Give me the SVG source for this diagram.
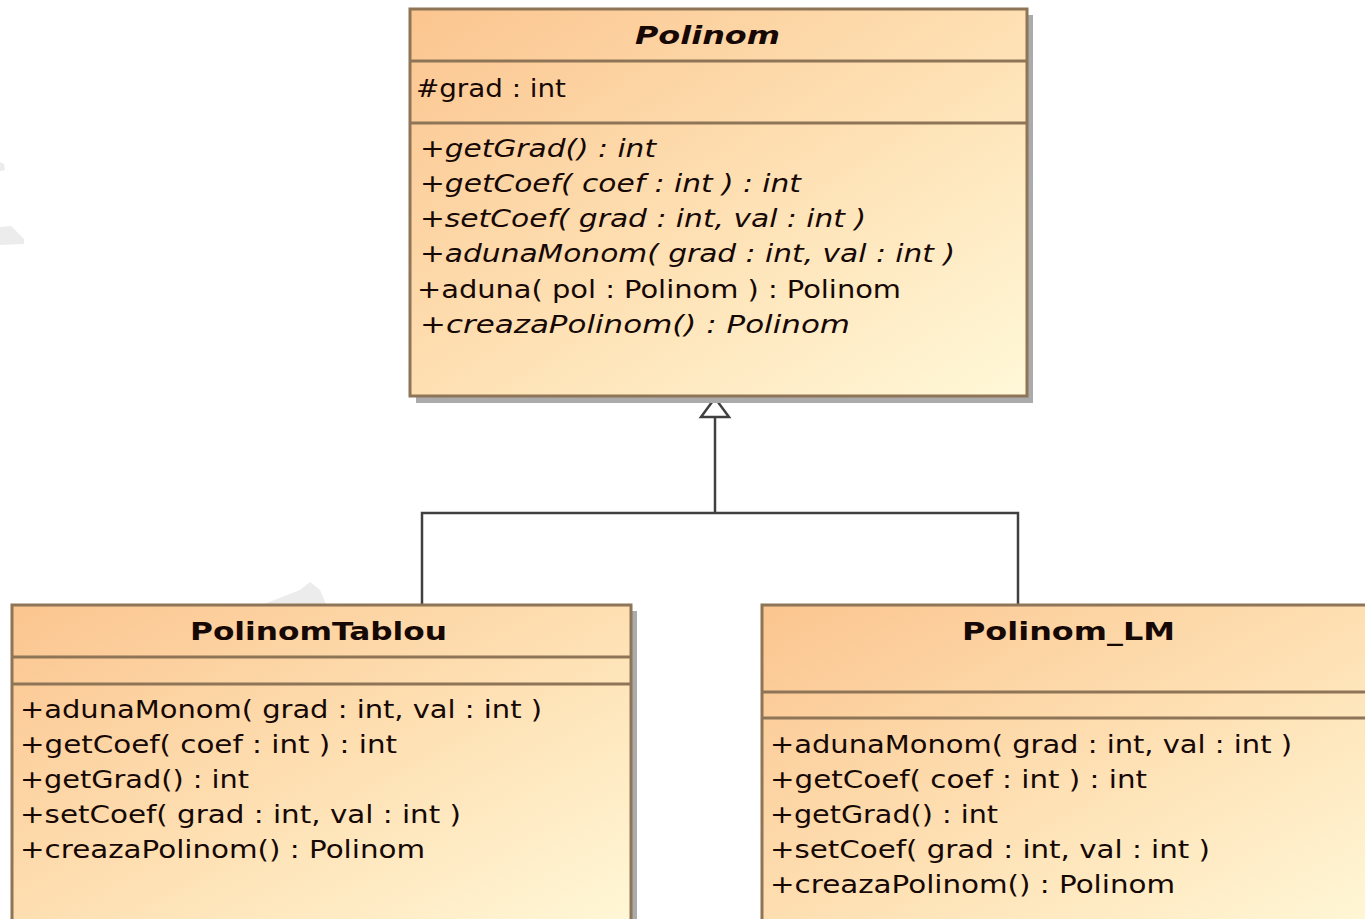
<svg xmlns="http://www.w3.org/2000/svg" width="1365" height="919" viewBox="0 0 1365 919">
  <defs>
    <linearGradient id="classFill" x1="0" y1="0" x2="1" y2="1">
      <stop offset="0" stop-color="#FBC58F"/>
      <stop offset="0.55" stop-color="#FEE2B6"/>
      <stop offset="1" stop-color="#FFF8D8"/>
    </linearGradient>
  </defs>
  <style>
    .shadow { fill: #ABABAB; }
    .box { fill: url(#classFill); stroke: #8E7557; stroke-width: 3; }
    .sep { stroke: #8E7557; stroke-width: 3; }
    .txt { font-family: "DejaVu Sans", "Liberation Sans", sans-serif; font-size: 24px; fill: #160805; }
    .it { font-style: italic; }
    .title { font-family: "DejaVu Sans", "Liberation Sans", sans-serif; font-size: 25px; font-weight: bold; fill: #160805; }
    .edge { stroke: #404040; stroke-width: 2.5; fill: none; }
    .head { stroke: #404040; stroke-width: 2.5; fill: #FFFFFF; stroke-linejoin: miter; }
    .faint { fill: #ECECEC; }
  </style>

  <rect width="1365" height="919" fill="#FFFFFF"/>

  <!-- faint background marks -->
  <polygon class="faint" points="0,227 11,226 24,239 24,244 0,245"/>
  <polygon class="faint" points="0,162 4,164 5,170 0,171"/>
  <polygon class="faint" points="264,604 300,590 310,582 320,590 326,604"/>

  <!-- generalization connectors -->
  <g id="connectors">
    <polyline class="edge" points="422,604 422,513 1018,513 1018,604"/>
    <line class="edge" x1="715" y1="513" x2="715" y2="417"/>
    <polygon class="head" points="715,398 701,417 729,417"/>
  </g>

  <!-- abstract base class -->
  <g id="Polinom">
    <rect class="shadow" x="416" y="15" width="617" height="388"/>
    <rect class="box" x="410" y="9" width="617" height="387"/>
    <line class="sep" x1="410" y1="61" x2="1027" y2="61"/>
    <line class="sep" x1="410" y1="123" x2="1027" y2="123"/>
    <text class="title it" x="635" y="44" textLength="145" lengthAdjust="spacingAndGlyphs">Polinom</text>
    <text class="txt" x="416" y="97" textLength="150" lengthAdjust="spacingAndGlyphs">#grad : int</text>
    <text class="txt it" x="420" y="157" textLength="236" lengthAdjust="spacingAndGlyphs">+getGrad() : int</text>
    <text class="txt it" x="420" y="192" textLength="381" lengthAdjust="spacingAndGlyphs">+getCoef( coef : int ) : int</text>
    <text class="txt it" x="420" y="227" textLength="446" lengthAdjust="spacingAndGlyphs">+setCoef( grad : int, val : int )</text>
    <text class="txt it" x="420" y="262" textLength="535" lengthAdjust="spacingAndGlyphs">+adunaMonom( grad : int, val : int )</text>
    <text class="txt" x="417" y="298" textLength="484" lengthAdjust="spacingAndGlyphs">+aduna( pol : Polinom ) : Polinom</text>
    <text class="txt it" x="420" y="333" textLength="430" lengthAdjust="spacingAndGlyphs">+creazaPolinom() : Polinom</text>
  </g>

  <!-- array-backed implementation -->
  <g id="PolinomTablou">
    <rect class="shadow" x="18" y="611" width="619" height="320"/>
    <rect class="box" x="12" y="605" width="619" height="330"/>
    <line class="sep" x1="12" y1="657" x2="631" y2="657"/>
    <line class="sep" x1="12" y1="684" x2="631" y2="684"/>
    <text class="title" x="190" y="640" textLength="257" lengthAdjust="spacingAndGlyphs">PolinomTablou</text>
    <text class="txt" x="20" y="718" textLength="522" lengthAdjust="spacingAndGlyphs">+adunaMonom( grad : int, val : int )</text>
    <text class="txt" x="20" y="753" textLength="377" lengthAdjust="spacingAndGlyphs">+getCoef( coef : int ) : int</text>
    <text class="txt" x="20" y="788" textLength="229" lengthAdjust="spacingAndGlyphs">+getGrad() : int</text>
    <text class="txt" x="20" y="823" textLength="441" lengthAdjust="spacingAndGlyphs">+setCoef( grad : int, val : int )</text>
    <text class="txt" x="20" y="858" textLength="405" lengthAdjust="spacingAndGlyphs">+creazaPolinom() : Polinom</text>
  </g>

  <!-- linked-list implementation -->
  <g id="Polinom_LM">
    <rect class="box" x="762" y="605" width="620" height="330"/>
    <line class="sep" x1="762" y1="692" x2="1365" y2="692"/>
    <line class="sep" x1="762" y1="718" x2="1365" y2="718"/>
    <text class="title" x="962" y="640" textLength="213" lengthAdjust="spacingAndGlyphs">Polinom_LM</text>
    <text class="txt" x="770" y="753" textLength="522" lengthAdjust="spacingAndGlyphs">+adunaMonom( grad : int, val : int )</text>
    <text class="txt" x="770" y="788" textLength="377" lengthAdjust="spacingAndGlyphs">+getCoef( coef : int ) : int</text>
    <text class="txt" x="770" y="823" textLength="228" lengthAdjust="spacingAndGlyphs">+getGrad() : int</text>
    <text class="txt" x="770" y="858" textLength="440" lengthAdjust="spacingAndGlyphs">+setCoef( grad : int, val : int )</text>
    <text class="txt" x="770" y="893" textLength="405" lengthAdjust="spacingAndGlyphs">+creazaPolinom() : Polinom</text>
  </g>
</svg>
